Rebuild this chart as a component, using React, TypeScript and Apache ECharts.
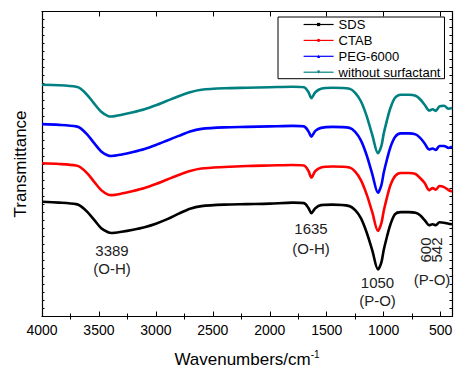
import React, { useEffect, useRef } from "react";
import * as echarts from "echarts";

const wavenumbers = [4000, 3850, 3700, 3660, 3600, 3540, 3480, 3420, 3389, 3300, 3200, 3100, 3000, 2900, 2800, 2700, 2600, 2400, 2200, 2000, 1800, 1700, 1660, 1635, 1600, 1550, 1450, 1300, 1250, 1200, 1150, 1100, 1050, 1020, 1000, 970, 940, 900, 850, 780, 720, 680, 640, 600, 570, 542, 510, 470, 430, 400];

const sds = [114.3, 113.5, 112, 110, 104, 96, 88, 84, 83.3, 84.5, 86.5, 89, 92.5, 97, 102.5, 107.5, 110, 111.5, 112, 112.5, 113.5, 113, 108, 103, 108, 111, 111.5, 110, 106, 98, 84, 66, 47, 54, 66, 80, 92, 102, 104, 104, 103.5, 101, 96, 91, 92, 91, 94, 93.5, 92.5, 92];
const ctab = [152.7, 152, 150.5, 148.5, 142.5, 134, 126, 121.5, 121, 122.5, 125, 128, 132, 136.5, 141, 145, 147.5, 149, 150, 150.5, 151, 150.5, 145, 138.5, 145, 148.5, 149.5, 148.5, 144.5, 136, 122, 104, 85.3, 93, 105, 119, 131, 140, 143, 143, 142, 138, 133, 126, 128, 126.5, 130, 129, 126, 124.5];
const peg = [191.7, 191, 189.5, 187.5, 181, 172.5, 164.5, 160.5, 160, 161.5, 164, 167, 171, 175.5, 180, 184.5, 187, 188.5, 189, 189.5, 190, 189.5, 184.5, 179.3, 185, 188, 189, 188, 184, 175.5, 161, 142, 123.3, 131, 143, 157, 169, 179, 182.5, 182.5, 181.5, 178, 172.5, 166.5, 167.5, 166, 170, 170, 168, 169.3];
const noSurf = [231, 230.5, 229, 227, 220.5, 212, 204, 199.7, 199.3, 201, 203.5, 206.5, 210.5, 215, 219.5, 223.5, 226, 227.5, 228, 228.5, 229, 228.5, 223.5, 217.7, 223.5, 227, 228, 227, 223, 214.5, 200, 181, 162.7, 170, 182, 196, 208, 218, 221, 221, 220, 216.5, 211, 205.3, 206.5, 205, 209.5, 210, 207, 207.7];

const seriesNames = ["SDS", "CTAB", "PEG-6000", "without surfactant"];
const seriesColors = ["#000000", "#ff0000", "#0000ff", "#008080"];
const seriesSymbols = ["rect", "circle", "triangle", "triangle"];
const seriesRotate = [0, 0, 0, 180];

const majorTicks = [4000, 3500, 3000, 2500, 2000, 1500, 1000, 500];
const minorTicks = [3750, 3250, 2750, 2250, 1750, 1250, 750];

const FONT = 'Arial, "Liberation Sans", sans-serif';

export default function App() {
  const ref = useRef<HTMLDivElement>(null);
  useEffect(() => {
    document.body.style.margin = "0";
    if (!ref.current) return;
    const chart = echarts.init(ref.current, null, { renderer: "svg" });
    const all = [sds, ctab, peg, noSurf];
    const xBase = { type: "value", min: 400, max: 4000, inverse: true, splitLine: { show: false } };
    const xAxes: any[] = [
      {
        ...xBase, position: "bottom",
        axisLine: { show: true, onZero: false, lineStyle: { color: "#000", width: 1.2 } },
        axisTick: { show: true, inside: true, length: 5, customValues: majorTicks, lineStyle: { color: "#000", width: 1 } },
        axisLabel: { show: true, customValues: majorTicks, margin: 6, fontSize: 14, color: "#000", fontFamily: FONT, formatter: (v: number) => String(v) },
        name: "{a|Wavenumbers/cm}{b|-1}", nameLocation: "middle", nameGap: 33,
        nameTextStyle: {
          rich: {
            a: { fontSize: 17, fontFamily: FONT, color: "#000" },
            b: { fontSize: 10, fontFamily: FONT, color: "#000", padding: [0, 0, 10, 0] },
          },
        },
      },
      {
        ...xBase, position: "bottom",
        axisLine: { show: false },
        axisTick: { show: true, inside: true, length: 3, customValues: minorTicks, lineStyle: { color: "#000", width: 1 } },
        axisLabel: { show: false },
      },
      {
        ...xBase, position: "top",
        axisLine: { show: true, onZero: false, lineStyle: { color: "#000", width: 1.2 } },
        axisTick: { show: true, inside: true, length: 5, customValues: majorTicks, lineStyle: { color: "#000", width: 1 } },
        axisLabel: { show: false },
      },
      {
        ...xBase, position: "top",
        axisLine: { show: false },
        axisTick: { show: true, inside: true, length: 3, customValues: minorTicks, lineStyle: { color: "#000", width: 1 } },
        axisLabel: { show: false },
      },
    ];
    const yBase = {
      type: "value", min: 0, max: 304, interval: 8, splitLine: { show: false },
      axisLine: { show: true, onZero: false, lineStyle: { color: "#000", width: 1.2 } },
      axisTick: { show: true, inside: true, length: 2.5, lineStyle: { color: "#000", width: 1 } },
      axisLabel: { show: false },
    };
    const yAxes: any[] = [
      {
        ...yBase, position: "left", name: "Transmittance", nameLocation: "middle", nameGap: 13,
        nameTextStyle: { fontSize: 17, fontFamily: FONT, color: "#000" },
      },
      { ...yBase, position: "right" },
    ];
    const annotations = [
      { text: "3389", x: 112, y: 250 },
      { text: "(O-H)", x: 112, y: 268.5 },
      { text: "1635", x: 311, y: 228.5 },
      { text: "(O-H)", x: 311, y: 248 },
      { text: "1050", x: 377.5, y: 282.5 },
      { text: "(P-O)", x: 377.5, y: 300.5 },
      { text: "(P-O)", x: 432, y: 279 },
    ];
    const graphics: any[] = annotations.map((a) => ({
      type: "text", x: a.x, y: a.y, z: 100,
      style: { text: a.text, fontSize: 15, fontFamily: FONT, fill: "#222", align: "center", verticalAlign: "middle" },
    }));
    graphics.push(
      { type: "text", x: 425, y: 250, rotation: Math.PI / 2, z: 100, style: { text: "600", fontSize: 15, fontFamily: FONT, fill: "#222", align: "center", verticalAlign: "middle" } },
      { type: "text", x: 436.5, y: 250, rotation: Math.PI / 2, z: 100, style: { text: "542", fontSize: 15, fontFamily: FONT, fill: "#222", align: "center", verticalAlign: "middle" } }
    );
    chart.setOption({
      animation: false,
      backgroundColor: "#fff",
      grid: { left: 42, top: 11.5, width: 410, height: 305, containLabel: false, outerBoundsMode: "none" },
      xAxis: xAxes,
      yAxis: yAxes,
      legend: {
        orient: "vertical", left: 278, top: 17,
        itemWidth: 30, itemHeight: 4, itemGap: 2.9,
        padding: [1, 4, 0, 25],
        borderColor: "#000", borderWidth: 1,
        backgroundColor: "#fff",
        lineStyle: { width: 1.2 },
        textStyle: { fontSize: 13, fontFamily: FONT, color: "#000" },
        data: seriesNames,
      },
      graphic: graphics,
      series: all.map((vals, i) => ({
        type: "line",
        name: seriesNames[i],
        xAxisIndex: 0, yAxisIndex: 0,
        data: wavenumbers.map((w, j) => [w, vals[j]]),
        showSymbol: false,
        symbol: seriesSymbols[i],
        symbolRotate: seriesRotate[i],
        symbolSize: 4,
        smooth: 0.3,
        lineStyle: { color: seriesColors[i], width: 2.6 },
        itemStyle: { color: seriesColors[i] },
        emphasis: { disabled: true },
      })),
    });
    return () => chart.dispose();
  }, []);
  return <div ref={ref} style={{ width: 454, height: 368 }} />;
}
